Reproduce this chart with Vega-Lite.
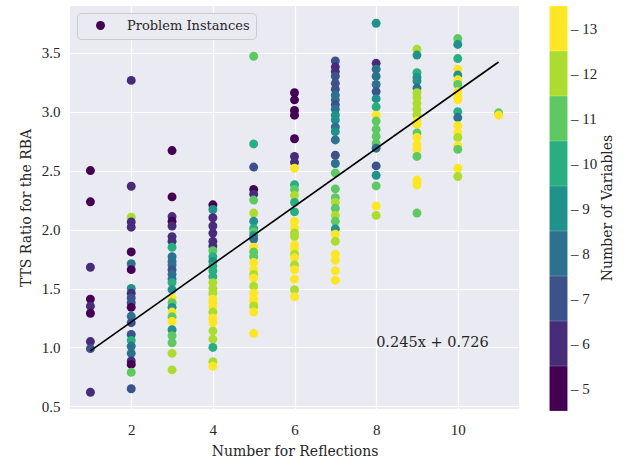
{
  "$schema": "https://vega.github.io/schema/vega-lite/v6.json",
  "width": 449,
  "height": 403,
  "autosize": {"type": "none"},
  "padding": {"left": 70, "top": 6, "right": 105, "bottom": 48},
  "background": "white",
  "config": {
    "view": {"fill": "#eaeaf2", "stroke": null},
    "font": "DejaVu Serif",
    "axis": {"domain": false, "ticks": false, "gridColor": "white", "gridWidth": 1.2, "labelFont": "Liberation Serif", "labelFontSize": 15, "labelColor": "#262626", "titleFont": "DejaVu Serif", "titleFontSize": 14, "titleFontWeight": "normal", "titleColor": "#262626"}
  },
  "datasets": {
    "points": [
      {"r":1,"t":2.50,"v":5},{"r":1,"t":2.235,"v":5},{"r":1,"t":1.68,"v":6},{"r":1,"t":1.41,"v":5},{"r":1,"t":1.35,"v":6},{"r":1,"t":1.29,"v":5},{"r":1,"t":1.05,"v":6},{"r":1,"t":0.99,"v":7},{"r":1,"t":0.62,"v":6},
      {"r":2,"t":3.265,"v":6},{"r":2,"t":2.367,"v":6},{"r":2,"t":2.104,"v":12},{"r":2,"t":2.065,"v":6},{"r":2,"t":2.02,"v":6},{"r":2,"t":1.81,"v":5},{"r":2,"t":1.71,"v":8},{"r":2,"t":1.66,"v":5},{"r":2,"t":1.50,"v":9},{"r":2,"t":1.46,"v":6},{"r":2,"t":1.42,"v":7},{"r":2,"t":1.38,"v":7},{"r":2,"t":1.34,"v":5},{"r":2,"t":1.265,"v":8},{"r":2,"t":1.21,"v":7},{"r":2,"t":1.11,"v":7},{"r":2,"t":1.06,"v":10},{"r":2,"t":1.01,"v":8},{"r":2,"t":0.95,"v":8},{"r":2,"t":0.885,"v":6},{"r":2,"t":0.856,"v":5},{"r":2,"t":0.79,"v":11},{"r":2,"t":0.65,"v":7},
      {"r":3,"t":2.67,"v":5},{"r":3,"t":2.277,"v":5},{"r":3,"t":2.11,"v":6},{"r":3,"t":2.07,"v":5},{"r":3,"t":2.03,"v":6},{"r":3,"t":1.94,"v":6},{"r":3,"t":1.90,"v":6},{"r":3,"t":1.85,"v":10},{"r":3,"t":1.77,"v":8},{"r":3,"t":1.73,"v":8},{"r":3,"t":1.70,"v":8},{"r":3,"t":1.66,"v":7},{"r":3,"t":1.62,"v":8},{"r":3,"t":1.58,"v":8},{"r":3,"t":1.55,"v":10},{"r":3,"t":1.49,"v":9},{"r":3,"t":1.42,"v":13},{"r":3,"t":1.38,"v":11},{"r":3,"t":1.34,"v":9},{"r":3,"t":1.30,"v":13},{"r":3,"t":1.26,"v":11},{"r":3,"t":1.22,"v":13},{"r":3,"t":1.15,"v":9},{"r":3,"t":1.10,"v":11},{"r":3,"t":1.04,"v":11},{"r":3,"t":0.95,"v":12},{"r":3,"t":0.81,"v":12},
      {"r":4,"t":2.21,"v":5},{"r":4,"t":2.17,"v":9},{"r":4,"t":2.10,"v":6},{"r":4,"t":2.03,"v":6},{"r":4,"t":1.97,"v":6},{"r":4,"t":1.90,"v":6},{"r":4,"t":1.86,"v":6},{"r":4,"t":1.82,"v":11},{"r":4,"t":1.77,"v":10},{"r":4,"t":1.73,"v":9},{"r":4,"t":1.69,"v":10},{"r":4,"t":1.65,"v":10},{"r":4,"t":1.60,"v":10},{"r":4,"t":1.55,"v":12},{"r":4,"t":1.50,"v":12},{"r":4,"t":1.46,"v":12},{"r":4,"t":1.41,"v":13},{"r":4,"t":1.38,"v":13},{"r":4,"t":1.34,"v":13},{"r":4,"t":1.30,"v":12},{"r":4,"t":1.25,"v":13},{"r":4,"t":1.21,"v":13},{"r":4,"t":1.14,"v":12},{"r":4,"t":1.07,"v":12},{"r":4,"t":1.00,"v":10},{"r":4,"t":0.88,"v":12},{"r":4,"t":0.84,"v":13},
      {"r":5,"t":3.47,"v":11},{"r":5,"t":2.726,"v":10},{"r":5,"t":2.53,"v":7},{"r":5,"t":2.34,"v":5},{"r":5,"t":2.30,"v":6},{"r":5,"t":2.25,"v":11},{"r":5,"t":2.14,"v":12},{"r":5,"t":2.07,"v":9},{"r":5,"t":2.01,"v":10},{"r":5,"t":1.98,"v":11},{"r":5,"t":1.95,"v":9},{"r":5,"t":1.92,"v":8},{"r":5,"t":1.85,"v":13},{"r":5,"t":1.81,"v":11},{"r":5,"t":1.77,"v":11},{"r":5,"t":1.72,"v":13},{"r":5,"t":1.66,"v":13},{"r":5,"t":1.62,"v":12},{"r":5,"t":1.59,"v":13},{"r":5,"t":1.52,"v":12},{"r":5,"t":1.46,"v":13},{"r":5,"t":1.41,"v":13},{"r":5,"t":1.38,"v":13},{"r":5,"t":1.35,"v":12},{"r":5,"t":1.30,"v":13},{"r":5,"t":1.12,"v":13},
      {"r":6,"t":3.16,"v":5},{"r":6,"t":3.10,"v":5},{"r":6,"t":3.01,"v":5},{"r":6,"t":2.97,"v":5},{"r":6,"t":2.77,"v":5},{"r":6,"t":2.62,"v":6},{"r":6,"t":2.57,"v":6},{"r":6,"t":2.52,"v":13},{"r":6,"t":2.38,"v":10},{"r":6,"t":2.34,"v":11},{"r":6,"t":2.29,"v":12},{"r":6,"t":2.23,"v":10},{"r":6,"t":2.15,"v":10},{"r":6,"t":2.07,"v":13},{"r":6,"t":2.01,"v":13},{"r":6,"t":1.97,"v":12},{"r":6,"t":1.94,"v":12},{"r":6,"t":1.87,"v":13},{"r":6,"t":1.83,"v":13},{"r":6,"t":1.79,"v":12},{"r":6,"t":1.76,"v":13},{"r":6,"t":1.70,"v":12},{"r":6,"t":1.66,"v":13},{"r":6,"t":1.58,"v":13},{"r":6,"t":1.49,"v":12},{"r":6,"t":1.43,"v":13},
      {"r":7,"t":3.43,"v":7},{"r":7,"t":3.38,"v":6},{"r":7,"t":3.34,"v":6},{"r":7,"t":3.30,"v":7},{"r":7,"t":3.24,"v":7},{"r":7,"t":3.19,"v":7},{"r":7,"t":3.14,"v":8},{"r":7,"t":3.10,"v":8},{"r":7,"t":3.06,"v":7},{"r":7,"t":3.02,"v":8},{"r":7,"t":2.97,"v":9},{"r":7,"t":2.93,"v":9},{"r":7,"t":2.87,"v":8},{"r":7,"t":2.83,"v":9},{"r":7,"t":2.76,"v":8},{"r":7,"t":2.63,"v":7},{"r":7,"t":2.56,"v":8},{"r":7,"t":2.48,"v":11},{"r":7,"t":2.345,"v":11},{"r":7,"t":2.27,"v":11},{"r":7,"t":2.23,"v":12},{"r":7,"t":2.18,"v":11},{"r":7,"t":2.12,"v":12},{"r":7,"t":2.07,"v":11},{"r":7,"t":2.005,"v":9},{"r":7,"t":1.96,"v":13},{"r":7,"t":1.90,"v":12},{"r":7,"t":1.79,"v":13},{"r":7,"t":1.74,"v":13},{"r":7,"t":1.65,"v":13},{"r":7,"t":1.57,"v":13},
      {"r":8,"t":3.75,"v":9},{"r":8,"t":3.41,"v":6},{"r":8,"t":3.36,"v":8},{"r":8,"t":3.30,"v":8},{"r":8,"t":3.23,"v":8},{"r":8,"t":3.17,"v":7},{"r":8,"t":3.11,"v":9},{"r":8,"t":3.04,"v":10},{"r":8,"t":2.97,"v":13},{"r":8,"t":2.92,"v":11},{"r":8,"t":2.85,"v":11},{"r":8,"t":2.79,"v":11},{"r":8,"t":2.73,"v":11},{"r":8,"t":2.69,"v":8},{"r":8,"t":2.54,"v":7},{"r":8,"t":2.46,"v":9},{"r":8,"t":2.37,"v":11},{"r":8,"t":2.20,"v":13},{"r":8,"t":2.12,"v":12},
      {"r":9,"t":3.53,"v":12},{"r":9,"t":3.48,"v":9},{"r":9,"t":3.33,"v":10},{"r":9,"t":3.29,"v":9},{"r":9,"t":3.26,"v":9},{"r":9,"t":3.20,"v":8},{"r":9,"t":3.16,"v":12},{"r":9,"t":3.12,"v":12},{"r":9,"t":3.07,"v":12},{"r":9,"t":3.02,"v":12},{"r":9,"t":2.97,"v":12},{"r":9,"t":2.92,"v":13},{"r":9,"t":2.89,"v":13},{"r":9,"t":2.82,"v":11},{"r":9,"t":2.78,"v":13},{"r":9,"t":2.72,"v":13},{"r":9,"t":2.68,"v":13},{"r":9,"t":2.62,"v":11},{"r":9,"t":2.42,"v":13},{"r":9,"t":2.38,"v":13},{"r":9,"t":2.14,"v":11},
      {"r":10,"t":3.62,"v":11},{"r":10,"t":3.57,"v":9},{"r":10,"t":3.45,"v":10},{"r":10,"t":3.36,"v":13},{"r":10,"t":3.31,"v":9},{"r":10,"t":3.27,"v":13},{"r":10,"t":3.23,"v":11},{"r":10,"t":3.17,"v":13},{"r":10,"t":3.12,"v":13},{"r":10,"t":3.10,"v":13},{"r":10,"t":3.00,"v":10},{"r":10,"t":2.95,"v":8},{"r":10,"t":2.88,"v":13},{"r":10,"t":2.82,"v":13},{"r":10,"t":2.78,"v":12},{"r":10,"t":2.71,"v":13},{"r":10,"t":2.68,"v":11},{"r":10,"t":2.52,"v":13},{"r":10,"t":2.45,"v":12},
      {"r":11,"t":2.99,"v":11},{"r":11,"t":2.97,"v":13}
    ],
    "fit": [{"r": 1, "t": 0.971}, {"r": 11, "t": 3.421}],
    "note": [{"r": 8, "t": 1.0, "txt": "0.245x + 0.726"}]
  },
  "layer": [
    {
      "data": {"name": "points"},
      "mark": {"type": "point", "filled": true, "size": 80, "opacity": 1, "strokeWidth": 0},
      "encoding": {
        "x": {"field": "r", "type": "quantitative", "scale": {"domain": [0.5, 11.5], "nice": false, "zero": false}, "axis": {"values": [2, 4, 6, 8, 10], "format": "d", "labelPadding": 13, "title": "Number for Reflections", "titlePadding": 7}},
        "y": {"field": "t", "type": "quantitative", "scale": {"domain": [0.478, 3.896], "nice": false, "zero": false}, "axis": {"values": [0.5, 1.0, 1.5, 2.0, 2.5, 3.0, 3.5], "format": ".1f", "labelPadding": 10, "title": "TTS Ratio for the RBA", "titlePadding": 8}},
        "color": {"field": "v", "type": "ordinal",
          "scale": {"domain": [13, 12, 11, 10, 9, 8, 7, 6, 5], "range": ["#fde725", "#addc30", "#5ec962", "#28ae80", "#21918c", "#2c728e", "#3b528b", "#472c7a", "#440154"]},
          "legend": {"orient": "none", "legendX": 466, "legendY": 0, "padding": 0, "title": "Number of Variables", "titleOrient": "right", "titleAngle": 270, "titleAnchor": "middle", "titleAlign": "center", "titleBaseline": "top", "titleFont": "DejaVu Serif", "titleFontSize": 14, "titleFontWeight": "normal", "titleColor": "#262626", "titlePadding": 4,
            "symbolType": "M-0.4,-1H0.4V1H-0.4Z", "symbolSize": 2007, "symbolStrokeWidth": 0, "symbolOpacity": 1, "rowPadding": 0,
            "labelExpr": "'– ' + datum.label", "labelOffset": -10, "labelFont": "Liberation Serif", "labelFontSize": 15, "labelColor": "#262626",
            "encode": {"title": {"update": {"angle": {"value": 270}}}}}},
        "shape": {"datum": "Problem Instances", "type": "nominal", "scale": {"range": ["circle"]},
          "legend": {"orient": "none", "legendX": 7, "legendY": 7, "title": null, "fillColor": "#eaeaf2", "strokeColor": "#cccccc", "cornerRadius": 4, "padding": 6, "symbolFillColor": "#440154", "symbolStrokeColor": "#440154", "symbolStrokeWidth": 0, "symbolSize": 80, "symbolOffset": 11, "labelOffset": 20, "labelFont": "DejaVu Serif", "labelFontSize": 13, "labelColor": "#262626"}}
      }
    },
    {
      "data": {"name": "fit"},
      "mark": {"type": "line", "color": "black", "strokeWidth": 1.6},
      "encoding": {"x": {"field": "r", "type": "quantitative"}, "y": {"field": "t", "type": "quantitative"}}
    },
    {
      "data": {"name": "note"},
      "mark": {"type": "text", "align": "left", "baseline": "alphabetic", "fontSize": 14.5, "font": "DejaVu Serif", "color": "#262626"},
      "encoding": {"x": {"field": "r", "type": "quantitative"}, "y": {"field": "t", "type": "quantitative"}, "text": {"field": "txt"}}
    }
  ]
}
